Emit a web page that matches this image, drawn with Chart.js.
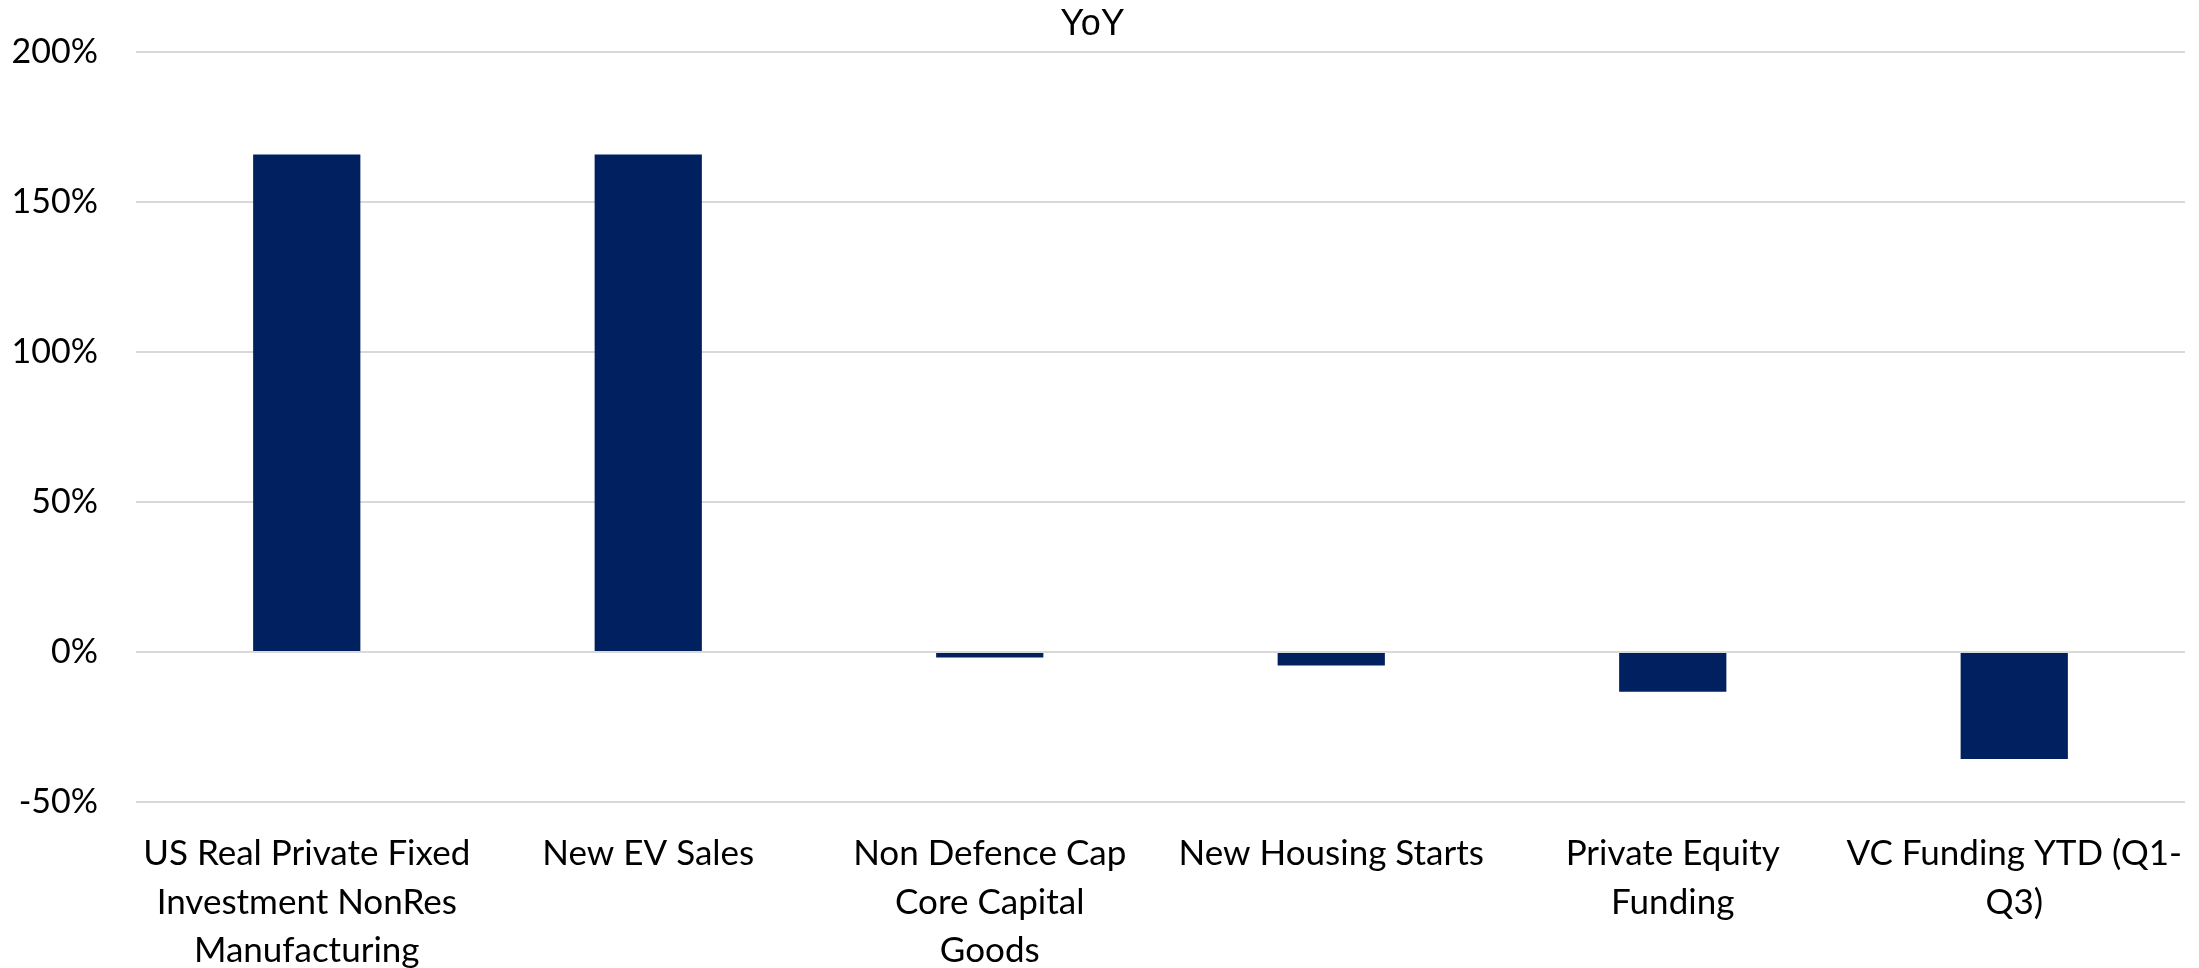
<!DOCTYPE html>
<html>
<head>
<meta charset="utf-8">
<title>YoY</title>
<script src="https://cdn.jsdelivr.net/npm/chart.js@4.4.0/dist/chart.umd.min.js"></script>
<style>
  html, body { margin:0; padding:0; background:#ffffff; }
  #wrap { position:relative; width:2199px; height:968px; }
</style>
</head>
<body>
<div id="wrap"><canvas id="chartYoY" width="2199" height="968"></canvas></div>
<script>
// ================================
// DATA
// ================================
const categories = [
  ["US Real Private Fixed", "Investment NonRes", "Manufacturing"],
  ["New EV Sales"],
  ["Non Defence Cap", "Core Capital", "Goods"],
  ["New Housing Starts"],
  ["Private Equity", "Funding"],
  ["VC Funding YTD (Q1-", "Q3)"]
];
const yoyValues = [165.9, 165.9, -1.8, -4.5, -13.2, -35.7];
const yTicks = [-50, 0, 50, 100, 150, 200];

const BAR_COLOR = "#012060";
const GRID_COLOR = "#d9d9d9";
const FONT = "Lato, 'Noto Sans', sans-serif";

// ========================================================
// DRAW
// ========================================================
const ctx = document.getElementById("chartYoY");

new Chart(ctx, {
  type: "bar",
  data: {
    labels: categories,
    datasets: [
      {
        label: "YoY",
        data: yoyValues,
        backgroundColor: BAR_COLOR,
        borderWidth: 0,
        categoryPercentage: 1,
        barPercentage: 0.314
      }
    ]
  },
  options: {
    responsive: false,
    animation: false,
    maintainAspectRatio: false,
    layout: { padding: { left: 0, right: 14, top: 0, bottom: 0 } },
    plugins: {
      legend: { display: false },
      tooltip: { enabled: false },
      title: {
        display: true,
        text: "YoY",
        color: "#000000",
        font: { family: "'Liberation Sans', Arial, sans-serif", size: 36, weight: "normal", lineHeight: 1.2 },
        padding: { top: 3, bottom: 6 }
      }
    },
    scales: {
      x: {
        grid: { display: false, drawTicks: false },
        border: { display: false },
        ticks: {
          color: "#000000",
          maxRotation: 0,
          autoSkip: false,
          padding: 28,
          font: { family: FONT, size: 35, lineHeight: 1.38 }
        },
        // fixed height, no side padding from the long last label
        afterFit: s => { s.height = 166; s.paddingLeft = 0; s.paddingRight = 0; }
      },
      y: {
        min: -50,
        max: 200,
        afterBuildTicks: s => { s.ticks = yTicks.map(v => ({ value: v })); },
        grid: { color: GRID_COLOR, lineWidth: 2, drawTicks: false },
        border: { display: false },
        ticks: {
          color: "#000000",
          padding: 38,
          font: { family: FONT, size: 34 },
          callback: v => v + "%"
        },
        // tick padding would otherwise push the plot top down
        afterFit: s => { s.width = 136; s.paddingTop = 0; s.paddingBottom = 0; }
      }
    }
  }
});
</script>
</body>
</html>
